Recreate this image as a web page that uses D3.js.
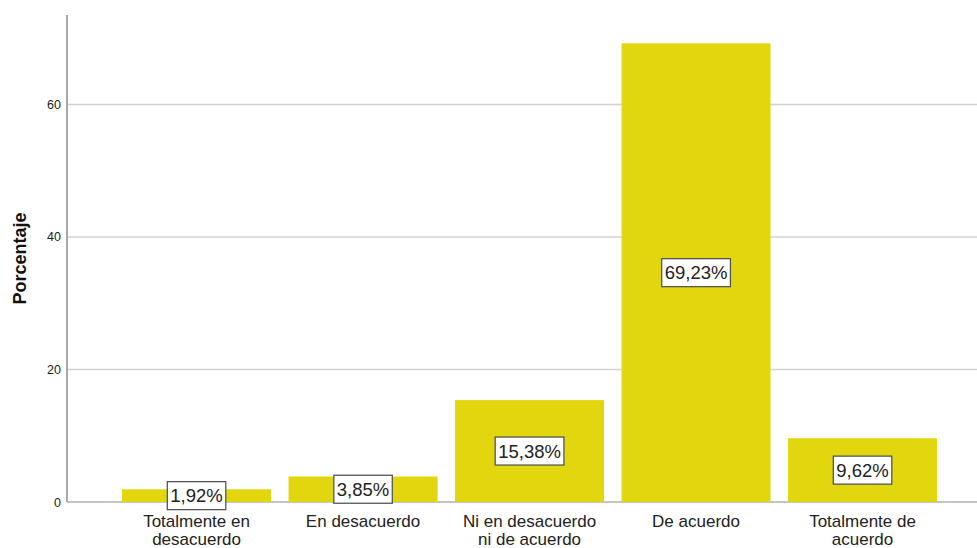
<!DOCTYPE html>
<html>
<head>
<meta charset="utf-8">
<script src="https://cdn.jsdelivr.net/npm/d3@7"></script>
<style>
  body { margin: 0; background: #fff; }
  svg { display: block; font-family: "Liberation Sans", Arial, sans-serif; }
</style>
</head>
<body>
<svg width="977" height="548"></svg>
<script>
// categories and values (percentages)
var categories = [
  ["Totalmente en", "desacuerdo"],
  ["En desacuerdo"],
  ["Ni en desacuerdo", "ni de acuerdo"],
  ["De acuerdo"],
  ["Totalmente de", "acuerdo"]
];
var values = [1.92, 3.85, 15.38, 69.23, 9.62];
var valueLabels = ["1,92%", "3,85%", "15,38%", "69,23%", "9,62%"];
var yTicks = [0, 20, 40, 60];

var svg = d3.select("svg");
var plot = {left: 67, right: 977, top: 15, bottom: 502};

var keys = categories.map(function(d) { return d.join(" "); });

// x scale
var x = d3.scaleBand()
    .domain(keys)
    .range([113.3, 945.8])
    .paddingInner(0.105)
    .paddingOuter(0.0525);

// y scale
var y = d3.scaleLinear()
    .domain([0, 73.5])
    .range([plot.bottom, plot.top]);

// gridlines
svg.append("g")
  .selectAll("line")
  .data(yTicks.filter(function(d) { return d > 0; }))
  .enter().append("line")
    .attr("x1", plot.left)
    .attr("x2", plot.right)
    .attr("y1", function(d) { return y(d); })
    .attr("y2", function(d) { return y(d); })
    .attr("stroke", "#d2d2d2")
    .attr("stroke-width", 1.5);

// baseline
svg.append("line")
  .attr("x1", plot.left).attr("x2", plot.right)
  .attr("y1", y(0)).attr("y2", y(0))
  .attr("stroke", "#8a8a8a")
  .attr("stroke-width", 1.2);

// bars
svg.append("g")
  .selectAll("rect")
  .data(values)
  .enter().append("rect")
    .attr("x", function(d, i) { return x(keys[i]); })
    .attr("y", function(d) { return y(d); })
    .attr("width", x.bandwidth())
    .attr("height", function(d) { return y(0) - y(d); })
    .attr("fill", "#e2d70f");

// y axis
var yAxis = svg.append("g")
  .attr("transform", "translate(" + plot.left + ",0)")
  .call(d3.axisLeft(y).tickValues(yTicks).tickSize(0).tickPadding(6));
yAxis.select(".domain").remove();
yAxis.selectAll("text")
  .attr("font-size", 12.5)
  .attr("font-family", "Liberation Sans, Arial, sans-serif")
  .attr("fill", "#222");
svg.append("line")
  .attr("x1", plot.left).attr("x2", plot.left)
  .attr("y1", plot.top).attr("y2", plot.bottom)
  .attr("stroke", "#a8a8a8")
  .attr("stroke-width", 2);

// y axis title
svg.append("text")
  .attr("transform", "translate(25.5,258.5) rotate(-90)")
  .attr("text-anchor", "middle")
  .attr("font-size", 18)
  .attr("font-weight", "bold")
  .attr("fill", "#111")
  .text("Porcentaje");

// category labels
var cat = svg.append("g")
  .selectAll("text")
  .data(categories)
  .enter().append("text")
    .attr("text-anchor", "middle")
    .attr("font-size", 17)
    .attr("fill", "#222")
    .attr("x", function(d, i) { return x(keys[i]) + x.bandwidth() / 2; });
cat.selectAll("tspan")
  .data(function(d) { return d; })
  .enter().append("tspan")
    .attr("x", function() { return d3.select(this.parentNode).attr("x"); })
    .attr("y", function(d, i) { return 527 + i * 18; })
    .text(function(d) { return d; });

// value labels with boxes
var lab = svg.append("g")
  .selectAll("g")
  .data(values)
  .enter().append("g")
    .attr("transform", function(d, i) {
      return "translate(" + (x(keys[i]) + x.bandwidth() / 2) + "," + ((y(0) + y(d)) / 2) + ")";
    });
lab.append("text")
  .attr("text-anchor", "middle")
  .attr("dy", "0.36em")
  .attr("font-size", 18.5)
  .attr("fill", "#222")
  .text(function(d, i) { return valueLabels[i]; });
lab.each(function() {
  var g = d3.select(this);
  var b = g.select("text").node().getBBox();
  g.insert("rect", "text")
    .attr("x", b.x - 3)
    .attr("y", -14)
    .attr("width", b.width + 6)
    .attr("height", 28)
    .attr("fill", "#fff")
    .attr("stroke", "#555")
    .attr("stroke-width", 1.3);
});
</script>
</body>
</html>
